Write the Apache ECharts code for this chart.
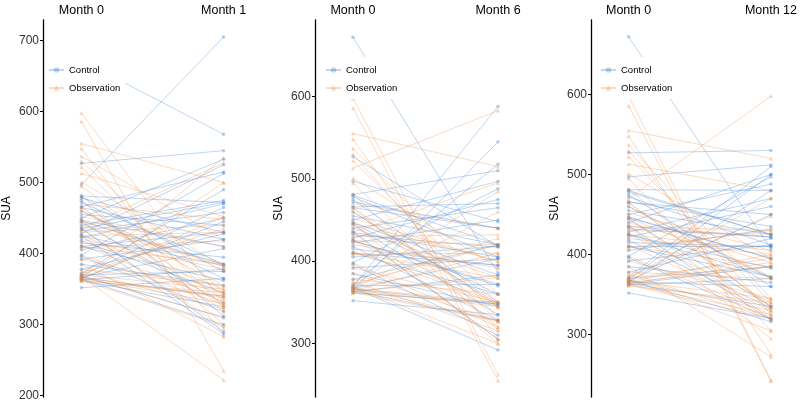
<!DOCTYPE html>
<html>
<head>
<meta charset="utf-8">
<script src="https://cdn.jsdelivr.net/npm/echarts@6/dist/echarts.min.js"></script>
<style>
html, body { margin: 0; padding: 0; background: #fff; }
#container { width: 800px; height: 405px; }
</style>
</head>
<body>
<div id="container"></div>
<script>
// month labels for the three panels
var months = ['Month 1', 'Month 6', 'Month 12'];
var yTicks = [[200, 300, 400, 500, 600, 700], [300, 400, 500, 600], [300, 400, 500, 600]];

// SUA at baseline (same subjects in every panel)
var control0 = [672, 527, 497, 481, 478, 475, 472, 466, 460, 455, 450, 447, 444, 440, 436, 432, 428, 425, 422, 418,
    415, 410, 405, 398, 396, 392, 385, 378, 372, 370, 369, 368, 367, 366, 365, 364, 363, 362, 352, 425,
    435, 446, 465, 410, 480];
var control1 = [568, 545, 705, 472, 430, 312, 385, 515, 365, 440, 533, 410, 330, 475, 290, 458, 525, 383, 470, 345,
    395, 362, 450, 513, 318, 420, 355, 428, 490, 375, 465, 310, 407, 340, 445, 300, 378, 325, 365, 287,
    472, 385, 420, 430, 375];
var control6 = [386, 418, 448, 510, 405, 350, 440, 470, 348, 420, 497, 383, 335, 465, 305, 417, 475, 370, 450, 328,
    395, 360, 418, 488, 310, 403, 345, 420, 518, 372, 588, 292, 403, 348, 545, 328, 383, 348, 335, 372,
    405, 360, 440, 395, 420];
var control12 = [407, 530, 512, 480, 425, 360, 412, 435, 370, 425, 488, 395, 335, 500, 318, 422, 470, 383, 460, 333,
    410, 372, 432, 497, 320, 412, 365, 420, 510, 385, 500, 316, 450, 360, 480, 335, 385, 370, 320, 372,
    422, 395, 450, 410, 425];

var obs0 = [598, 586, 555, 548, 537, 530, 522, 513, 501, 495, 482, 470, 465, 460, 452, 446, 440, 435, 430, 425,
    420, 412, 408, 398, 392, 385, 378, 375, 372, 370, 369, 368, 367, 366, 365, 364, 363, 362, 361, 410,
    425, 435, 446, 465, 370];
var obs1 = [330, 235, 500, 285, 420, 345, 325, 452, 382, 340, 300, 448, 335, 355, 410, 320, 385, 295, 440, 350,
    378, 332, 418, 328, 345, 283, 355, 322, 435, 535, 310, 222, 338, 500, 330, 452, 340, 298, 345, 385,
    430, 528, 382, 325, 350];
var obs6 = [262, 255, 515, 305, 360, 330, 350, 583, 392, 327, 316, 440, 320, 345, 400, 300, 380, 305, 432, 345,
    392, 350, 410, 320, 350, 327, 360, 316, 420, 485, 300, 328, 350, 460, 345, 410, 380, 327, 350, 380,
    420, 495, 400, 345, 428];
var obs12 = [243, 242, 520, 275, 345, 325, 340, 480, 395, 305, 330, 598, 335, 372, 405, 320, 390, 295, 425, 340,
    400, 330, 430, 325, 345, 272, 370, 320, 448, 470, 305, 330, 345, 400, 385, 390, 325, 320, 340, 385,
    405, 430, 372, 335, 395];

var blue = 'rgba(50,120,210,0.35)';
var orange = 'rgba(240,140,60,0.35)';

// panel layout (pixels)
var panels = [
    {left: 39, right: 538, xmin: -0.27, xmax: 1.27, ymin: 198, ymax: 729, legendLeft: 45},
    {left: 315, right: 264, xmin: -0.262, xmax: 1.262, ymin: 235, ymax: 693, legendLeft: 322},
    {left: 591, right: 0, xmin: -0.264, xmax: 1.18, ymin: 222, ymax: 693, legendLeft: 597}
];

function pairSeries(name, idx, before, after, color, symbol, size) {
    var out = [];
    for (var i = 0; i < before.length; i++) {
        out.push({
            name: name,
            type: 'line',
            xAxisIndex: idx,
            yAxisIndex: idx,
            data: [[0, before[i]], [1, after[i]]],
            symbol: symbol,
            symbolSize: size,
            itemStyle: {color: color},
            lineStyle: {color: color, width: 0.9},
            silent: true,
            animation: false
        });
    }
    return out;
}

var grids = [], xAxes = [], yAxes = [], legends = [], series = [];
var afterCtrl = [control1, control6, control12];
var afterObs = [obs1, obs6, obs12];

for (var p = 0; p < 3; p++) {
    var c = panels[p];
    grids.push({left: c.left, right: c.right, top: 20, bottom: 8});
    xAxes.push({
        type: 'value',
        gridIndex: p,
        position: 'top',
        min: c.xmin,
        max: c.xmax,
        axisLine: {show: false},
        axisTick: {show: false},
        splitLine: {show: false},
        axisLabel: {
            customValues: [0, 1],
            margin: 3,
            fontSize: 12.5,
            color: '#000',
            fontFamily: 'Liberation Sans',
            formatter: (function (m) {
                return function (v) { return v === 0 ? 'Month 0' : m; };
            })(months[p])
        }
    });
    yAxes.push({
        type: 'value',
        gridIndex: p,
        min: c.ymin,
        max: c.ymax,
        name: 'SUA',
        nameLocation: 'middle',
        nameGap: 30,
        nameRotate: 90,
        nameTextStyle: {fontSize: 12, color: '#000', fontFamily: 'Liberation Sans'},
        axisLine: {show: true, onZero: false, lineStyle: {color: '#000', width: 1.3}},
        axisTick: {show: true, length: 3, customValues: yTicks[p], lineStyle: {color: '#000'}},
        splitLine: {show: false},
        axisLabel: {customValues: yTicks[p], margin: 4, fontSize: 12, color: '#333', fontFamily: 'Liberation Sans'}
    });
    legends.push({
        data: [
            {name: 'Control', itemStyle: {color: 'rgba(50,120,210,0.3)'}, lineStyle: {color: 'rgba(50,120,210,0.3)'}},
            {name: 'Observation', itemStyle: {color: 'rgba(240,140,60,0.3)'}, lineStyle: {color: 'rgba(240,140,60,0.3)'}}
        ],
        orient: 'vertical',
        left: c.legendLeft,
        top: 57,
        z: 10,
        padding: [8, 5, 6, 3],
        itemGap: 8,
        itemWidth: 15,
        itemHeight: 7,
        backgroundColor: '#fff',
        selectedMode: false,
        textStyle: {fontSize: 9.5, color: '#000', fontFamily: 'Liberation Sans'}
    });
    series = series.concat(pairSeries('Control', p, control0, afterCtrl[p], blue, 'circle', 3.5));
    series = series.concat(pairSeries('Observation', p, obs0, afterObs[p], orange, 'triangle', 4));
}

var myChart = echarts.init(document.getElementById('container'));
myChart.setOption({
    animation: false,
    grid: grids,
    xAxis: xAxes,
    yAxis: yAxes,
    legend: legends,
    series: series
});
</script>
</body>
</html>
